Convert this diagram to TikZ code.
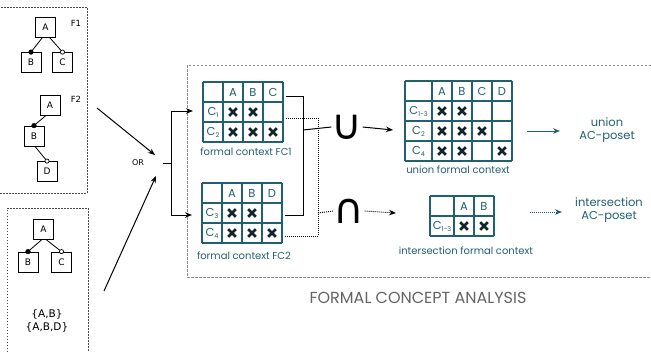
\documentclass[tikz,border=0pt]{standalone}
\usepackage{fontspec}
\setmainfont{DejaVu Sans}
\newfontfamily\geo{Poppins}
\usetikzlibrary{arrows.meta,calc}
\definecolor{tealc}{RGB}{33,96,110}
\definecolor{xc}{RGB}{18,36,44}
\definecolor{grayt}{RGB}{100,100,100}
\newcommand\sbs[1]{\raisebox{-0.45ex}{\fontsize{6.5}{6.5}\selectfont #1}}
\newcommand\xm[1]{\draw[xmark] ($(#1)+(-3.8,-3.8)$) -- ($(#1)+(3.8,3.8)$) ($(#1)+(-3.8,3.8)$) -- ($(#1)+(3.8,-3.8)$);}
\tikzset{
  fbox/.style={draw=black, line width=0.8pt, minimum width=20pt, minimum height=20pt, inner sep=0pt, font=\fontsize{9}{9}\selectfont},
  treeline/.style={line width=0.8pt},
  fdot/.style={fill=black, draw=black, line width=0.5pt},
  odot/.style={fill=white, draw=black, line width=0.7pt},
  leftbox/.style={draw=black!70, line width=0.9pt, dash pattern=on 1.5pt off 1.5pt},
  rightbox/.style={draw=black!45, line width=0.8pt, dash pattern=on 2.5pt off 1.5pt},
  gridline/.style={draw=tealc, line width=1.1pt},
  cell/.style={inner sep=0pt, text=tealc, font=\geo\fontsize{11.5}{11.5}\selectfont},
  captext/.style={inner sep=0pt, text=tealc, font=\geo\fontsize{10}{10}\selectfont},
  restext/.style={inner sep=0pt, text=tealc, align=center, font=\geo\fontsize{11.5}{13}\selectfont},
  xmark/.style={draw=xc, line width=2.7pt},
  arr/.style={line width=1pt, -{Stealth[length=7pt,width=5.5pt]}},
  solid1/.style={line width=1pt},
  dots/.style={line width=0.9pt, dash pattern=on 1pt off 1pt},
  optext/.style={inner sep=0pt, font=\fontsize{42}{42}\selectfont},
}
\begin{document}
\begin{tikzpicture}[x=1pt,y=-1pt]
\useasboundingbox (0,0) rectangle (651,351);
% left boxes
\draw[leftbox] (-2,7) -- (87,7) -- (87,193) -- (-2,193);
\draw[leftbox] (7,355) -- (7,208) -- (88,208) -- (88,355);
\draw[rightbox] (655,65) -- (187,65) -- (187,277) -- (655,277);
% F1
\node[fbox] (a1) at (45.5,27) {A};
\node[fbox] (b1) at (31,62.5) {B};
\node[fbox] (c1) at (62.5,62.5) {C};
\node[font=\fontsize{8.5}{8.5}\selectfont] (f1) at (76,23) {F1};
\draw[treeline] ($(a1.south)+(-3,0)$) -- (b1.north);
\draw[treeline] ($(a1.south)+(4,0)$) -- (c1.north);
\fill[fdot] (b1.north) circle (2.3);
\draw[odot] (c1.north) circle (2.1);
% F2
\node[fbox] (a2) at (50,105) {A};
\node[fbox] (b2) at (34,136) {B};
\node[fbox] (d2) at (47,171.5) {D};
\node[font=\fontsize{8.5}{8.5}\selectfont] (f2) at (76,99) {F2};
\draw[treeline] ($(a2.south)+(-4,0)$) -- (b2.north);
\draw[treeline] ($(b2.south)+(1,0)$) -- (d2.north);
\fill[fdot] (b2.north) circle (2.3);
\draw[odot] (d2.north) circle (2.1);
% bottom tree
\node[fbox] (a3) at (43.5,229.5) {A};
\node[fbox] (b3) at (28,262) {B};
\node[fbox] (c3) at (61.5,262) {C};
\draw[treeline] ($(a3.south)+(-2,0)$) -- (b3.north);
\draw[treeline] ($(a3.south)+(3,0)$) -- (c3.north);
\fill[fdot] (b3.north) circle (2.3);
\draw[odot] (c3.north) circle (2.1);
\node[font=\fontsize{10.5}{13}\selectfont, align=center] (sets) at (47,321) {\{A,B\}\\\{A,B,D\}};
% OR
\coordinate (s1) at (97,108);
\coordinate (s2) at (104,291);
\node[font=\fontsize{8}{8}\selectfont] (or) at (138,163) {OR};
\coordinate (e1) at (155,155);
\coordinate (e2) at (156,176);
\draw[arr] (s1) -- (e1);
\draw[arr] (s2) -- (e2);
\coordinate (orr) at (163,163);
\coordinate (sp) at (171,163);
\coordinate (sp1) at (171,111);
\coordinate (sp2) at (171,215);
\coordinate (t1) at (193,111);
\coordinate (t2) at (192,215);
\draw[solid1] (orr) -- (sp);
\draw[solid1] (sp1) -- (sp2);
\draw[arr] (sp1) -- (t1);
\draw[arr] (sp2) -- (t2);
% FC1
\foreach \x in {203,223,243,263,283} \draw[gridline] (\x,82) -- (\x,142);
\foreach \y in {82,102,122,142} \draw[gridline] (203,\y) -- (283,\y);
\node[cell] (fc1a) at (233,92.5) {A};
\node[cell] (fc1b) at (253,92.5) {B};
\node[cell] (fc1c) at (273,92.5) {C};
\node[cell] (fc1r1) at (213,112.5) {C\sbs{1}};
\node[cell] (fc1r2) at (213,132.5) {C\sbs{2}};
\xm{233,112}\xm{253,112}\xm{233,132}\xm{253,132}\xm{273,132}
\node[captext] (cap1) at (246,152) {formal context FC1};
% FC2
\foreach \x in {202,222,242,262,282} \draw[gridline] (\x,183) -- (\x,243);
\foreach \y in {183,203,223,243} \draw[gridline] (202,\y) -- (282,\y);
\node[cell] (fc2a) at (232,193.5) {A};
\node[cell] (fc2b) at (252,193.5) {B};
\node[cell] (fc2d) at (272,193.5) {D};
\node[cell] (fc2r1) at (212,213.5) {C\sbs{3}};
\node[cell] (fc2r2) at (212,233.5) {C\sbs{4}};
\xm{232,213}\xm{252,213}\xm{232,233}\xm{252,233}\xm{272,233}
\node[captext] (cap2) at (244,256) {formal context FC2};
% connectors
\coordinate (u0) at (286,96);
\coordinate (u1) at (303,96);
\coordinate (u2) at (303,215);
\coordinate (u3) at (285,215);
\coordinate (um) at (303,130);
\draw[solid1] (u0) -- (u1) -- (u2) -- (u3);
\coordinate (i0) at (286,118);
\coordinate (i1) at (318,118);
\coordinate (i2) at (318,236);
\coordinate (i3) at (285,236);
\coordinate (im) at (318,213);
\draw[dots] (i0) -- (i1) -- (i2) -- (i3);
\node[optext] (cupn) at (347,127) {∪};
\node[optext] (capn) at (349,211) {∩};
\draw[solid1] (um) -- (cupn.west);
\draw[dots] (im) -- (capn.west);
\draw[arr] (cupn.east) -- (393,130);
\draw[arr, dots] (capn.east) -- (396,213);
% union table
\foreach \x in {405,432,452,472,492,512} \draw[gridline] (\x,81) -- (\x,161);
\foreach \y in {81,101,121,141,161} \draw[gridline] (405,\y) -- (512,\y);
\node[cell] (ua) at (442,91.5) {A};
\node[cell] (ub) at (462,91.5) {B};
\node[cell] (uc) at (482,91.5) {C};
\node[cell] (ud) at (502,91.5) {D};
\node[cell] (ur1) at (418.5,111.5) {C\sbs{1-3}};
\node[cell] (ur2) at (418.5,131.5) {C\sbs{2}};
\node[cell] (ur3) at (418.5,151.5) {C\sbs{4}};
\xm{442,111}\xm{462,111}\xm{442,131}\xm{462,131}\xm{482,131}\xm{442,151}\xm{462,151}\xm{502,151}
\node[captext] (ucap) at (458,170) {union formal context};
% intersection table
\foreach \x in {430,454,474,494} \draw[gridline] (\x,196) -- (\x,236);
\foreach \y in {196,216,236} \draw[gridline] (430,\y) -- (494,\y);
\node[cell] (ia) at (464,206.5) {A};
\node[cell] (ib) at (484,206.5) {B};
\node[cell] (ir1) at (442,226.5) {C\sbs{1-3}};
\xm{464,226}\xm{484,226}
\node[captext] (icap) at (466,251) {intersection formal context};
% results
\node[restext] (ures) at (607,130) {union\\AC-poset};
\node[restext] (ires) at (609,210) {intersection\\AC-poset};
\draw[arr, draw=tealc] (527,131) -- (560,131);
\draw[arr, dots, draw=tealc] (530,212) -- (562,212);
\node[inner sep=0pt, text=grayt, font=\geo\fontsize{16}{16}\selectfont] (fca) at (418,298) {FORMAL CONCEPT ANALYSIS};
\end{tikzpicture}
\end{document}
